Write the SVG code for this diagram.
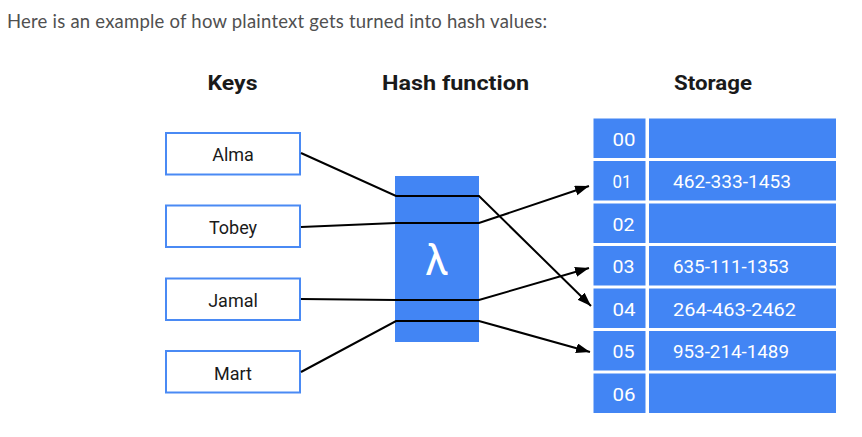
<svg xmlns="http://www.w3.org/2000/svg" width="862" height="437" viewBox="0 0 862 437">
<style>
.intro{font-family:Lato,"Open Sans",sans-serif;font-size:18.5px;fill:#505050}
.head{font-family:Roboto,"Liberation Sans",sans-serif;font-size:19.5px;font-weight:700;fill:#1a1a1a}
.key rect{fill:#ffffff;stroke:#4a8af4;stroke-width:2}
.key text{font-family:Roboto,"Liberation Sans",sans-serif;font-size:18px;fill:#1a1a1a;text-anchor:middle}
.cell{fill:#4285f4}
.cl{font-family:Roboto,"Liberation Sans",sans-serif;font-size:18px;fill:#ffffff}
.conn polyline{fill:none;stroke:#000000;stroke-width:2}
</style>
<defs>
<marker id="arr" markerUnits="userSpaceOnUse" markerWidth="16" markerHeight="12" refX="14" refY="5" orient="auto">
<path d="M0,0 L14,5 L0,10 Z" fill="#000000"/>
</marker>
</defs>
<rect width="862" height="437" fill="#ffffff"/>
<text class="intro" x="7" y="28" textLength="540" lengthAdjust="spacing">Here is an example of how plaintext gets turned into hash values:</text>
<g id="headings">
<text class="head" x="207.5" y="89.5" textLength="50" lengthAdjust="spacingAndGlyphs">Keys</text>
<text class="head" x="382" y="89.5" textLength="147" lengthAdjust="spacingAndGlyphs">Hash function</text>
<text class="head" x="674" y="89.5" textLength="78" lengthAdjust="spacingAndGlyphs">Storage</text>
</g>
<g id="key-alma" class="key"><rect x="166" y="133" width="134" height="41.5"/><text x="233" y="161">Alma</text></g>
<g id="key-tobey" class="key"><rect x="166" y="205.5" width="134" height="41.5"/><text x="233" y="234">Tobey</text></g>
<g id="key-jamal" class="key"><rect x="166" y="278.5" width="134" height="41.5"/><text x="233" y="306.5">Jamal</text></g>
<g id="key-mart" class="key"><rect x="166" y="351" width="134" height="41.5"/><text x="233" y="379.5">Mart</text></g>
<g id="hash">
<rect x="395" y="176" width="84" height="166" fill="#4285f4"/>
<text x="437" y="275" font-family="Roboto,'Liberation Sans',sans-serif" font-size="42" fill="#ffffff" text-anchor="middle">λ</text>
</g>
<g id="storage">
<g id="row-00"><rect class="cell" x="593.5" y="118.5" width="52" height="39.5"/><rect class="cell" x="649" y="118.5" width="187" height="39.5"/><text class="cl" x="612.5" y="146" textLength="23" lengthAdjust="spacingAndGlyphs">00</text></g>
<g id="row-01"><rect class="cell" x="593.5" y="161" width="52" height="39.5"/><rect class="cell" x="649" y="161" width="187" height="39.5"/><text class="cl" x="612.5" y="188" textLength="19" lengthAdjust="spacingAndGlyphs">01</text><text class="cl" x="673" y="188" textLength="118" lengthAdjust="spacingAndGlyphs">462-333-1453</text></g>
<g id="row-02"><rect class="cell" x="593.5" y="203.5" width="52" height="39.5"/><rect class="cell" x="649" y="203.5" width="187" height="39.5"/><text class="cl" x="612.5" y="230.5" textLength="22" lengthAdjust="spacingAndGlyphs">02</text></g>
<g id="row-03"><rect class="cell" x="593.5" y="246" width="52" height="39.5"/><rect class="cell" x="649" y="246" width="187" height="39.5"/><text class="cl" x="612.5" y="273" textLength="22" lengthAdjust="spacingAndGlyphs">03</text><text class="cl" x="673" y="273" textLength="116" lengthAdjust="spacingAndGlyphs">635-111-1353</text></g>
<g id="row-04"><rect class="cell" x="593.5" y="288.5" width="52" height="39.5"/><rect class="cell" x="649" y="288.5" width="187" height="39.5"/><text class="cl" x="612.5" y="315.5" textLength="23" lengthAdjust="spacingAndGlyphs">04</text><text class="cl" x="673" y="315.5" textLength="123" lengthAdjust="spacingAndGlyphs">264-463-2462</text></g>
<g id="row-05"><rect class="cell" x="593.5" y="331" width="52" height="39.5"/><rect class="cell" x="649" y="331" width="187" height="39.5"/><text class="cl" x="612.5" y="358" textLength="22" lengthAdjust="spacingAndGlyphs">05</text><text class="cl" x="673" y="358" textLength="116" lengthAdjust="spacingAndGlyphs">953-214-1489</text></g>
<g id="row-06"><rect class="cell" x="593.5" y="373.5" width="52" height="39.5"/><rect class="cell" x="649" y="373.5" width="187" height="39.5"/><text class="cl" x="612.5" y="400.5" textLength="23" lengthAdjust="spacingAndGlyphs">06</text></g>
</g>
<g id="connectors" class="conn">
<polyline points="301,153 396,196 479,196 591,306" marker-end="url(#arr)"/>
<polyline points="301,227 396,223 479,223 589,186" marker-end="url(#arr)"/>
<polyline points="301,299 396,300 479,300 589,268" marker-end="url(#arr)"/>
<polyline points="301,372 396,321 479,321 590,352" marker-end="url(#arr)"/>
</g>
</svg>
